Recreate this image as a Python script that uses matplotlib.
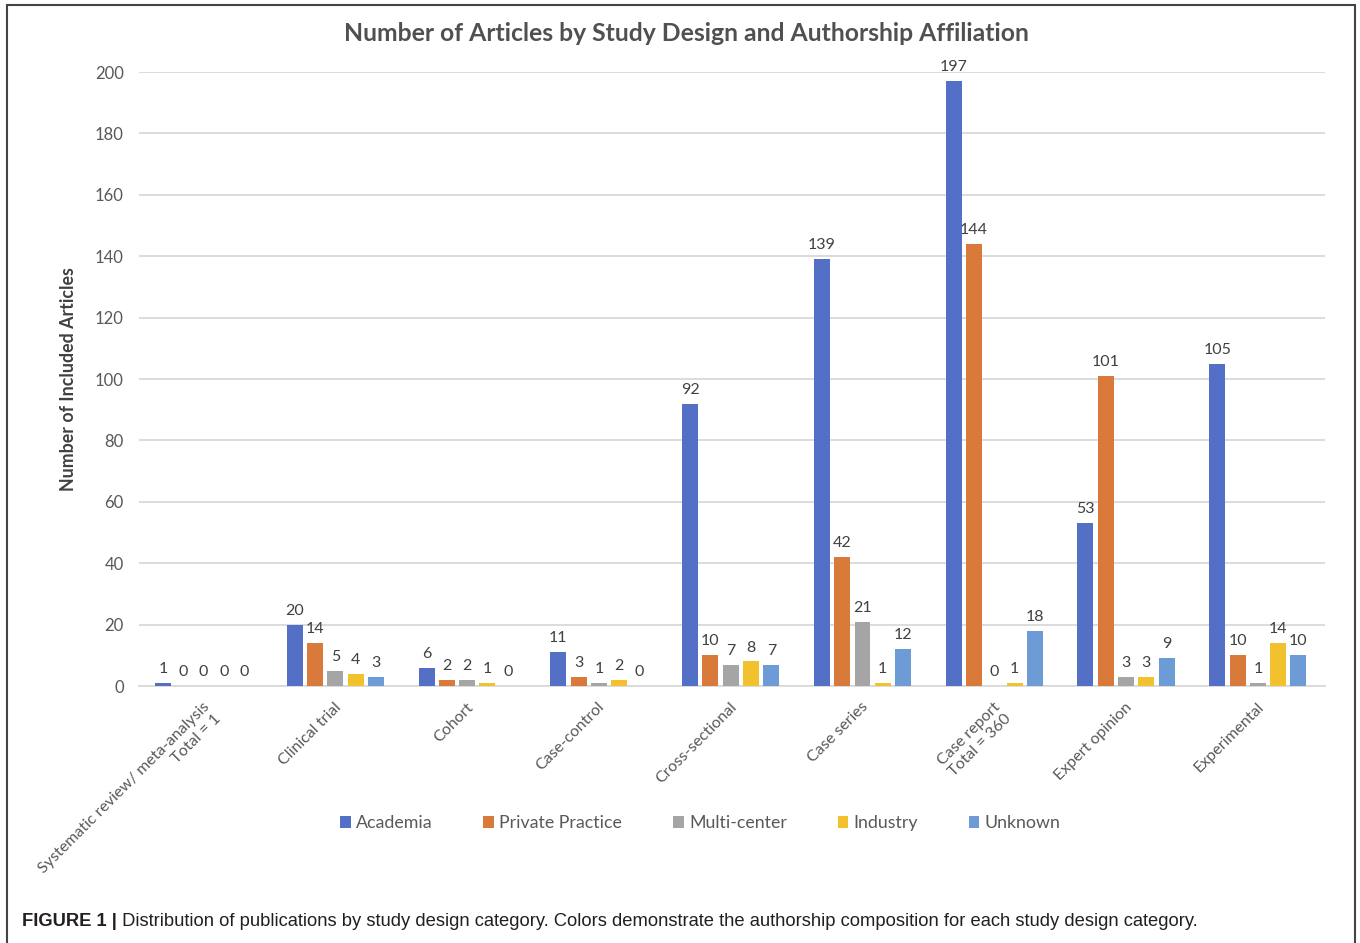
import matplotlib
matplotlib.use("Agg")
import matplotlib.pyplot as plt
from matplotlib.patches import Rectangle
import numpy as np

plt.rcParams['font.family'] = ['Lato', 'DejaVu Sans']

designs = ["Systematic review/ meta-analysis\nTotal = 1", "Clinical trial", "Cohort",
           "Case-control", "Cross-sectional", "Case series", "Case report\nTotal = 360",
           "Expert opinion", "Experimental"]
affiliations = ["Academia", "Private Practice", "Multi-center", "Industry", "Unknown"]

academia = [1, 20, 6, 11, 92, 139, 197, 53, 105]
private_practice = [0, 14, 2, 3, 10, 42, 144, 101, 10]
multi_center = [0, 5, 2, 1, 7, 21, 0, 3, 1]
industry = [0, 4, 1, 2, 8, 1, 1, 3, 14]
unknown = [0, 3, 0, 0, 7, 12, 18, 9, 10]

series = [academia, private_practice, multi_center, industry, unknown]
colors = ['#5470C6', '#D9793A', '#A5A5A5', '#F2C12E', '#6D9BD6']

fig = plt.figure(figsize=(13.6, 9.43), dpi=100)
ax = fig.add_axes([0.1022, 0.2725, 0.8721, 0.6511])

x = np.arange(len(designs)) + 0.5
step = 0.154
width = 0.121
for i, (vals, col, name) in enumerate(zip(series, colors, affiliations)):
    pos = x + (i - 2) * step - 0.01
    bars = ax.bar(pos, vals, width=width, color=col, label=name, zorder=3)
    for b, v in zip(bars, vals):
        ax.annotate(str(v), (b.get_x() + b.get_width() / 2, v), xytext=(0, 5),
                    textcoords='offset points', ha='center', va='bottom',
                    fontsize=11.5, color='#404040', annotation_clip=False)

ax.set_xlim(0, len(designs))
ax.set_ylim(0, 200)
ax.set_yticks(range(0, 201, 20))
ax.yaxis.grid(True, color='#D9D9D9', linewidth=1.3, zorder=0)
ax.tick_params(axis='y', length=0, pad=11, labelsize=12, labelcolor='#595959')
ax.tick_params(axis='x', length=0, pad=10)
for s in ['top', 'right', 'left']:
    ax.spines[s].set_visible(False)
ax.spines['bottom'].set_color('#D9D9D9')
ax.spines['bottom'].set_linewidth(1.3)

ax.set_xticks(x - 0.02)
ax.set_xticklabels(designs, rotation=45, ha='right', va='top', rotation_mode='anchor',
                   multialignment='right', fontsize=11.5, color='#595959')

ax.set_ylabel("Number of Included Articles", fontsize=12.8, fontweight='bold',
              color='#404040', labelpad=13)
fig.text(0.505, 0.965, "Number of Articles by Study Design and Authorship Affiliation",
         ha='center', va='center', fontsize=17.8, fontweight='bold', color='#505050')

ax.legend(loc='center', bbox_to_anchor=(0.515, 0.127), bbox_transform=fig.transFigure,
          ncol=5, frameon=False, fontsize=12.8, labelcolor='#595959', handlelength=0.6,
          handleheight=0.6, handletextpad=0.3, columnspacing=2.85)

# caption
t1 = fig.text(0.016, 0.014, "FIGURE 1 |", fontsize=13.2, fontweight='bold',
              family='Liberation Sans', color='#231F20', va='bottom')
ax.annotate(" Distribution of publications by study design category. Colors demonstrate "
            "the authorship composition for each study design category.",
            xy=(1, 0), xycoords=t1, va='bottom', ha='left', fontsize=13.2,
            family='Liberation Sans', color='#231F20', annotation_clip=False)

# frame around the figure
fig.add_artist(Rectangle((0.0055, -0.05), 0.9905, 1.045, transform=fig.transFigure,
                         fill=False, edgecolor='#444444', linewidth=1.5, clip_on=False))

fig.savefig("out.png", dpi=100)
